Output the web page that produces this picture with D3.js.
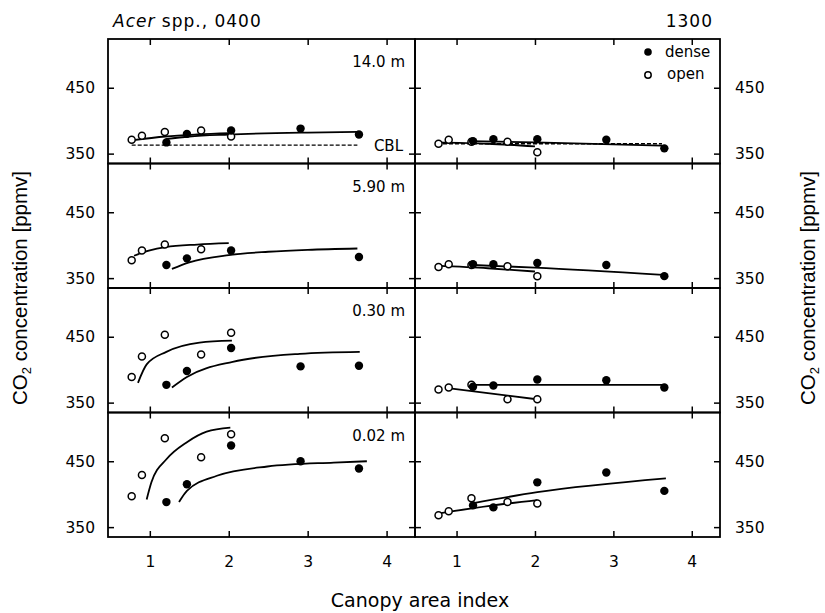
<!DOCTYPE html>
<html>
<head>
<meta charset="utf-8">
<script src="https://cdn.jsdelivr.net/npm/d3@7"></script>
<style>
body { margin: 0; background: #fff; }
svg { font-family: "DejaVu Sans", "Liberation Sans", Arial, sans-serif; }
</style>
</head>
<body>
<svg width="825" height="613"></svg>
<script>
// canopy area index of the plots (x values)
var denseCAI = [1.21, 1.47, 2.03, 2.91, 3.65];
var openCAI = [0.77, 0.9, 1.19, 1.65, 2.03];

var heights = ["14.0 m", "5.90 m", "0.30 m", "0.02 m"];
var xTicks = [1, 2, 3, 4];
var yTicks = [350, 450];

// CO2 [ppmv], one row per height (top to bottom)
var dense0400 = [
	[367, 380, 385, 388, 379],
	[370, 380, 392, null, 382],
	[377, 398, 433, 405, 406],
	[388, 415, 474, 450, 439]
];
var open0400 = [
	[371, 377, 383, 385, 376],
	[377, 392, 401, 394, null],
	[389, 420, 453, 423, 456],
	[397, 429, 485, 456, 491]
];
var dense1300 = [
	[369, 372, 372, 371, 358],
	[371, 371, 373, 370, 353],
	[374, 376, 385, 384, 373],
	[383, 380, 418, 433, 405]
];
var open1300 = [
	[365, 371, 368, 368, 352],
	[367, 371, 370, 368, 353],
	[370, 373, 377, 355, 355],
	[368, 374, 394, 388, 386]
];

// fitted curves [CAI, ppmv]
var fitDense0400 = [
	[[1.2, 372], [1.5, 376], [2, 379], [3, 382], [3.63, 383]],
	[[1.28, 364], [1.5, 374], [2.0, 385], [2.5, 390], [3.0, 393], [3.63, 395]],
	[[1.28, 373], [1.47, 389], [2.05, 412], [2.9, 424], [3.66, 427]],
	[[1.37, 388], [1.47, 405], [1.85, 428], [2.49, 442], [3.33, 448], [3.75, 450]]
];
var fitOpen0400 = [
	[[0.77, 370], [1.2, 376], [1.6, 379], [2.02, 381]],
	[[0.8, 384], [1.0, 392], [1.2, 397], [1.6, 401], [2.0, 403]],
	[[0.85, 380], [0.96, 408], [1.21, 427], [1.63, 441], [2.04, 444]],
	[[0.96, 392], [1.02, 418], [1.21, 453], [1.47, 479], [1.72, 495], [2.02, 501]]
];
var fitDense1300 = [
	[[1.17, 369], [2.0, 367], [3.62, 362]],
	[[1.17, 370], [2.0, 366], [3.63, 355]],
	[[1.2, 377], [2.0, 377], [3.64, 377]],
	[[1.2, 386], [2.03, 403], [3.67, 424]]
];
var fitOpen1300 = [
	[[0.73, 367], [1.4, 365], [2.0, 361]],
	[[0.74, 369], [1.4, 365], [2.0, 360]],
	[[0.89, 372], [1.5, 363], [2.03, 355]],
	[[0.78, 371], [1.4, 382], [2.03, 391]]
];

// convective boundary layer reference (top row only)
var cbl0400 = [[0.77, 363], [3.63, 363]];
var cbl1300 = [[0.75, 365], [3.62, 365]];

var svg = d3.select("svg");
var left = 108, mid = 415, right = 720, topY = 39, rowH = 124.5;
var rowCount = heights.length;

var panels = [
	{x0: left, x1: mid, dense: dense0400, open: open0400, fd: fitDense0400, fo: fitOpen0400, cbl: cbl0400},
	{x0: mid, x1: right, dense: dense1300, open: open1300, fd: fitDense1300, fo: fitOpen1300, cbl: cbl1300}
];

panels.forEach(function(p, c) {
	var x = d3.scaleLinear().domain([0.47, 4.36]).range([p.x0, p.x1]);
	for (var r = 0; r < rowCount; r++) {
		var y0 = topY + r * rowH, y1 = y0 + rowH;
		var y = d3.scaleLinear().domain([335, 524]).range([y1, y0]);
		var g = svg.append("g");

		// inward ticks on all four sides
		var axL = d3.axisLeft(y).tickValues(yTicks).tickSize(-6).tickPadding(13);
		if (c == 1) axL.tickFormat("");
		var axR = d3.axisRight(y).tickValues(yTicks).tickSize(-6).tickPadding(15);
		if (c == 0) axR.tickFormat("");
		var axT = d3.axisTop(x).tickValues(xTicks).tickSize(-6).tickFormat("");
		var axB = d3.axisBottom(x).tickValues(xTicks).tickSize(-6).tickPadding(19).tickFormat(d3.format("d"));
		if (r < rowCount - 1) axB.tickFormat("");

		[[axL, "translate(" + p.x0 + ",0)"], [axR, "translate(" + p.x1 + ",0)"],
		 [axT, "translate(0," + y0 + ")"], [axB, "translate(0," + y1 + ")"]].forEach(function(a) {
			var ag = g.append("g").attr("transform", a[1]).call(a[0]);
			ag.select(".domain").remove();
			ag.selectAll("line").attr("stroke-width", 1.5);
			ag.selectAll("text").attr("font-size", 15.5).attr("fill", "#000")
				.attr("font-family", "DejaVu Sans, Liberation Sans, Arial, sans-serif");
		});

		g.append("rect")
		.attr("x", p.x0).attr("y", y0)
		.attr("width", p.x1 - p.x0).attr("height", rowH)
		.attr("fill", "none").attr("stroke", "#000").attr("stroke-width", 1.8);

		var line = d3.line()
		.x(function(d) { return x(d[0]); })
		.y(function(d) { return y(d[1]); })
		.curve(d3.curveMonotoneX);

		if (r == 0) {
			g.append("path").attr("d", d3.line().x(function(d) { return x(d[0]); }).y(function(d) { return y(d[1]); })(p.cbl))
			.attr("fill", "none").attr("stroke", "#000").attr("stroke-width", 1.3)
			.attr("stroke-dasharray", "4,2");
		}

		[p.fd[r], p.fo[r]].forEach(function(f) {
			g.append("path").attr("d", line(f))
			.attr("fill", "none").attr("stroke", "#000").attr("stroke-width", 1.8);
		});

		var dPts = denseCAI.map(function(v, i) { return [v, p.dense[r][i]]; })
			.filter(function(d) { return d[1] != null; });
		var oPts = openCAI.map(function(v, i) { return [v, p.open[r][i]]; })
			.filter(function(d) { return d[1] != null; });

		g.selectAll("circle.open").data(oPts).enter().append("circle")
		.attr("class", "open")
		.attr("cx", function(d) { return x(d[0]); })
		.attr("cy", function(d) { return y(d[1]); })
		.attr("r", 3.5).attr("fill", "#fff").attr("stroke", "#000").attr("stroke-width", 1.5);

		g.selectAll("circle.dense").data(dPts).enter().append("circle")
		.attr("class", "dense")
		.attr("cx", function(d) { return x(d[0]); })
		.attr("cy", function(d) { return y(d[1]); })
		.attr("r", 4.2).attr("fill", "#000");

		if (c == 0) {
			g.append("text").attr("x", p.x1 - 10).attr("y", y0 + 28)
			.attr("text-anchor", "end").attr("font-size", 15).text(heights[r]);
			if (r == 0) {
				g.append("text").attr("x", p.x1 - 12).attr("y", y(p.cbl[0][1]) + 6)
				.attr("text-anchor", "end").attr("font-size", 15).text("CBL");
			}
		}
	}
});

// titles
var t = svg.append("text").attr("x", 113).attr("y", 27).attr("font-size", 17).attr("letter-spacing", 1);
t.append("tspan").attr("font-style", "italic").text("Acer");
t.append("tspan").text(" spp., 0400");
svg.append("text").attr("x", 713).attr("y", 27).attr("text-anchor", "end")
.attr("font-size", 17).attr("letter-spacing", 1).text("1300");

// legend
svg.append("circle").attr("cx", 648).attr("cy", 52).attr("r", 3.8).attr("fill", "#000");
svg.append("text").attr("x", 665).attr("y", 57).attr("font-size", 15).text("dense");
svg.append("circle").attr("cx", 648).attr("cy", 75).attr("r", 3.2)
.attr("fill", "#fff").attr("stroke", "#000").attr("stroke-width", 1.5);
svg.append("text").attr("x", 667).attr("y", 79).attr("font-size", 15).text("open");

// axis titles
function yTitle(xp) {
	var yt = svg.append("text")
	.attr("transform", "translate(" + xp + "," + (topY + rowH * 2) + ") rotate(-90)")
	.attr("text-anchor", "middle").attr("font-size", 20.5)
	.attr("font-family", "Liberation Sans, Arial, sans-serif");
	yt.append("tspan").text("CO");
	yt.append("tspan").attr("font-size", 13).attr("dy", 4).text("2");
	yt.append("tspan").attr("dy", -4).text(" concentration [ppmv]");
}
yTitle(27);
yTitle(815);

svg.append("text").attr("x", (left + right) / 2 + 6).attr("y", 607)
.attr("text-anchor", "middle").attr("font-size", 19).text("Canopy area index");
</script>
</body>
</html>
